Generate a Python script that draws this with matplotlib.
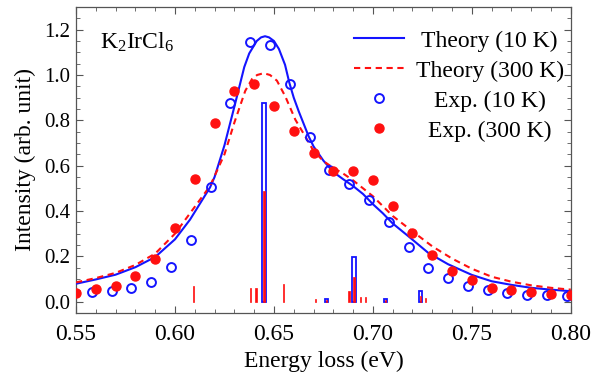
import matplotlib
matplotlib.use("Agg")
import matplotlib.pyplot as plt
from matplotlib.lines import Line2D
from matplotlib.ticker import MultipleLocator

plt.rcParams['font.family'] = ['Liberation Serif', 'DejaVu Serif']
plt.rcParams['mathtext.fontset'] = 'custom'
plt.rcParams['mathtext.rm'] = 'Liberation Serif'
plt.rcParams['mathtext.it'] = 'Liberation Serif:italic'

# Theory curves
th10_E = [0.550, 0.560, 0.570, 0.580, 0.590, 0.600, 0.6076, 0.6177, 0.620, 0.625, 0.630, 0.635,
          0.6375, 0.6413, 0.6435, 0.6455, 0.6475, 0.650, 0.6525, 0.6556, 0.6578, 0.660, 0.6625,
          0.665, 0.6675, 0.670, 0.675, 0.680, 0.685, 0.690,
          0.695, 0.700, 0.705, 0.710, 0.718, 0.728, 0.738, 0.750, 0.760, 0.770, 0.780, 0.790, 0.800]
th10_I = [0.079, 0.098, 0.119, 0.152, 0.197, 0.275, 0.362, 0.504, 0.550, 0.690, 0.860, 1.035,
          1.095, 1.150, 1.166, 1.171, 1.166, 1.150, 1.115, 1.045, 0.965, 0.900, 0.840,
          0.785, 0.730, 0.685, 0.622, 0.572, 0.540, 0.510,
          0.475, 0.430, 0.390, 0.345, 0.288, 0.215, 0.165, 0.118, 0.090, 0.074, 0.061, 0.053, 0.046]
th300_E = [0.550, 0.560, 0.570, 0.580, 0.590, 0.600, 0.6076, 0.6177, 0.625, 0.630, 0.6355, 0.6389,
           0.6415, 0.6448, 0.648, 0.6515, 0.6557, 0.6608, 0.6658, 0.670, 0.675, 0.680, 0.685,
           0.690, 0.695, 0.700,
           0.710, 0.720, 0.730, 0.740, 0.750, 0.760, 0.770, 0.780, 0.790, 0.800]
th300_I = [0.085, 0.104, 0.127, 0.162, 0.212, 0.300, 0.390, 0.510, 0.650, 0.790, 0.930, 0.982,
           1.000, 1.008, 1.000, 0.975, 0.906, 0.803, 0.729, 0.665, 0.620, 0.590, 0.565,
           0.535, 0.500, 0.465,
           0.378, 0.310, 0.244, 0.190, 0.145, 0.110, 0.088, 0.072, 0.061, 0.053]

# Experimental points
exp10_E = [0.558, 0.568, 0.578, 0.588, 0.598, 0.608, 0.618, 0.628, 0.638, 0.648, 0.658, 0.668,
           0.678, 0.688, 0.698, 0.708, 0.718, 0.728, 0.738, 0.748, 0.758, 0.768, 0.778, 0.788, 0.798]
exp10_I = [0.043, 0.047, 0.059, 0.087, 0.151, 0.272, 0.506, 0.876, 1.146, 1.134, 0.960, 0.728,
           0.582, 0.518, 0.447, 0.351, 0.240, 0.147, 0.103, 0.071, 0.052, 0.038, 0.030, 0.028, 0.025]
exp300_E = [0.55, 0.56, 0.57, 0.58, 0.59, 0.60, 0.61, 0.62, 0.63, 0.64, 0.65, 0.66, 0.67,
            0.68, 0.69, 0.70, 0.71, 0.72, 0.73, 0.74, 0.75, 0.76, 0.77, 0.78, 0.79, 0.80]
exp300_I = [0.037, 0.054, 0.071, 0.113, 0.190, 0.325, 0.543, 0.790, 0.928, 0.962, 0.862, 0.754, 0.654,
            0.575, 0.575, 0.537, 0.420, 0.301, 0.207, 0.137, 0.097, 0.062, 0.050, 0.043, 0.034, 0.028]

# Stick spectra
stick10_E = [0.6449, 0.6764, 0.6904, 0.7064, 0.7241]
stick10_I = [0.875, 0.012, 0.197, 0.012, 0.048]
stick300_E = [0.6093, 0.6382, 0.6409, 0.6449, 0.6547, 0.6709, 0.6764, 0.6879, 0.6904,
              0.6936, 0.6963, 0.7064, 0.7241, 0.7265]
stick300_I = [0.068, 0.062, 0.062, 0.487, 0.078, 0.010, 0.008, 0.045, 0.107,
              0.020, 0.020, 0.008, 0.023, 0.015]

labels = ["Theory (10 K)", "Theory (300 K)", "Exp. (10 K)", "Exp. (300 K)"]

BLUE = '#1414ff'
RED = '#ff1010'

fig = plt.figure(figsize=(5.94, 3.78), dpi=100)
ax = fig.add_axes([0.128, 0.172, 0.833, 0.8095])

ax.bar(stick10_E, stick10_I, width=0.0017, facecolor='white', edgecolor=BLUE, linewidth=1.3, zorder=2)
ax.bar(stick300_E, stick300_I, width=0.0007, facecolor=RED, edgecolor=RED, linewidth=0.5, zorder=3)

ax.plot(th10_E, th10_I, color=BLUE, lw=1.5, zorder=4)
ax.plot(th300_E, th300_I, color=RED, lw=1.5, dashes=(3, 2.2), zorder=4)
ax.plot(exp10_E, exp10_I, 'o', mfc='none', mec=BLUE, mew=1.4, ms=6.4, zorder=5)
ax.plot(exp300_E, exp300_I, 'o', color=RED, mec=RED, ms=6.5, zorder=5)

ax.set_xlim(0.55, 0.80)
ax.set_ylim(-0.05, 1.30)
ax.xaxis.set_major_locator(MultipleLocator(0.05))
ax.xaxis.set_minor_locator(MultipleLocator(0.01))
ax.yaxis.set_major_locator(MultipleLocator(0.2))
ax.yaxis.set_minor_locator(MultipleLocator(0.05))
ax.xaxis.set_major_formatter(matplotlib.ticker.FormatStrFormatter('%.2f'))
ax.yaxis.set_major_formatter(matplotlib.ticker.FormatStrFormatter('%.1f'))
ax.tick_params(which='both', direction='in', top=True, right=True, color='#555555')
ax.tick_params(which='major', length=5, width=0.8)
ax.tick_params(which='minor', length=3, width=0.6)
ax.tick_params(axis='x', labelsize=17, pad=8)
ax.tick_params(axis='y', labelsize=15, pad=4)
for s in ax.spines.values():
    s.set_color('#555555')
    s.set_linewidth(0.9)

ax.set_xlabel("Energy loss (eV)", fontsize=17, labelpad=4)
ax.set_ylabel("Intensity (arb. unit)", fontsize=17, labelpad=6)

ax.text(0.048, 0.885, "K$_2$IrCl$_6$", transform=ax.transAxes, fontsize=17, va='center', ha='left')

handles = [Line2D([], [], color=BLUE, lw=1.5),
           Line2D([], [], color=RED, lw=1.5, dashes=(3, 2.2)),
           Line2D([], [], ls='none', marker='o', mfc='none', mec=BLUE, mew=1.4, ms=6.4),
           Line2D([], [], ls='none', marker='o', color=RED, ms=6.5)]
leg = ax.legend(handles, labels, loc='upper right', bbox_to_anchor=(1.0, 0.948), frameon=False,
                fontsize=17, handlelength=2.1, handletextpad=0.5, labelspacing=0.36,
                borderaxespad=0.1, borderpad=0.2)

fig.canvas.draw()
renderer = fig.canvas.get_renderer()
texts = leg.get_texts()
widths = [t.get_window_extent(renderer).width for t in texts]
wmax = max(widths)
for t, w in zip(texts, widths):
    t.set_position(((wmax - w) / 2.0, 0))

fig.savefig("out.png", dpi=100)
